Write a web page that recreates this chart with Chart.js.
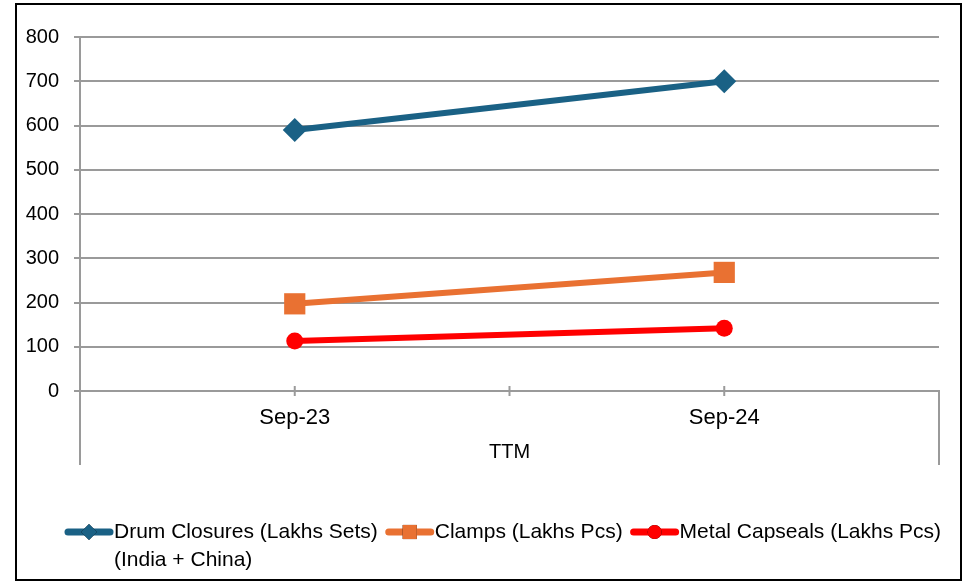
<!DOCTYPE html>
<html lang="en">
<head>
<meta charset="UTF-8" />
<title>TTM volumes</title>
<script src="https://cdn.jsdelivr.net/npm/chart.js"></script>
<style>
  html, body { margin: 0; padding: 0; background: #fff; }
  #wrap { width: 968px; height: 584px; }
</style>
</head>
<body>
<div id="wrap"><canvas id="myChart" width="968" height="584"></canvas></div>
<script>
// data
const categories = ["Sep-23", "Sep-24"];
const groupLabel = "TTM";
const drumClosures = [590, 700];
const clamps = [197, 268];
const metalCapseals = [113, 142];
const seriesNames = [
    "Drum Closures (Lakhs Sets)\n(India + China)",
    "Clamps (Lakhs Pcs)",
    "Metal Capseals (Lakhs Pcs)",
];
const yTicks = [0, 100, 200, 300, 400, 500, 600, 700, 800];

const FONT = "'Liberation Sans', Arial, sans-serif";
const GRID = "#9a9a9a";

// frame, multi-level axis bits and legend drawn here
const extras = {
    id: "extras",
    afterDraw(chart) {
        const ctx = chart.ctx;
        const x = chart.scales.x;
        const area = chart.chartArea;
        ctx.save();

        // outer border
        ctx.strokeStyle = "#000";
        ctx.lineWidth = 2;
        ctx.strokeRect(16, 4, 945, 576);

        // category axis ticks
        ctx.strokeStyle = GRID;
        ctx.lineWidth = 2;
        const y0 = area.bottom;
        const c0 = x.getPixelForValue(0);
        const c1 = x.getPixelForValue(1);
        [c0, (c0 + c1) / 2, c1].forEach((px) => {
            ctx.beginPath();
            ctx.moveTo(px, y0 - 5);
            ctx.lineTo(px, y0 + 5);
            ctx.stroke();
        });
        [area.left, area.right].forEach((px) => {
            ctx.beginPath();
            ctx.moveTo(px, y0);
            ctx.lineTo(px, 465);
            ctx.stroke();
        });

        // group label
        ctx.fillStyle = "#000";
        ctx.font = "20px " + FONT;
        ctx.textAlign = "center";
        ctx.textBaseline = "middle";
        ctx.fillText(groupLabel, (area.left + area.right) / 2, 452);

        // legend
        ctx.font = "21px " + FONT;
        ctx.textAlign = "left";
        let lx = 65;
        const ly = 532;
        chart.data.datasets.forEach((ds) => {
            ctx.strokeStyle = ds.borderColor;
            ctx.lineWidth = 7;
            ctx.lineCap = "round";
            ctx.beginPath();
            ctx.moveTo(lx + 3, ly);
            ctx.lineTo(lx + 45, ly);
            ctx.stroke();
            Chart.helpers.drawPoint(ctx, {
                pointStyle: ds.pointStyle,
                radius: ds.legendRadius,
                rotation: 0,
                borderWidth: 0,
            }, lx + 24, ly);
            ctx.fillStyle = ds.borderColor;
            ctx.fill();
            const lines = ds.label.split("\n");
            ctx.fillStyle = "#000";
            lines.forEach((t, i) => ctx.fillText(t, lx + 49, ly + i * 28));
            lx += 49 + ctx.measureText(lines[0]).width + 8;
        });
        ctx.restore();
    },
};

const config = {
    type: "line",
    data: {
        labels: categories,
        datasets: [
            {
                label: seriesNames[0],
                data: drumClosures,
                borderColor: "#1a6185",
                backgroundColor: "#1a6185",
                pointStyle: "rectRot",
                pointRadius: 12,
                legendRadius: 8,
            },
            {
                label: seriesNames[1],
                data: clamps,
                borderColor: "#e97132",
                backgroundColor: "#e97132",
                pointStyle: "rect",
                pointRadius: 15,
                legendRadius: 10,
            },
            {
                label: seriesNames[2],
                data: metalCapseals,
                borderColor: "#ff0000",
                backgroundColor: "#ff0000",
                pointStyle: "circle",
                pointRadius: 8.5,
                legendRadius: 7,
            },
        ],
    },
    options: {
        responsive: false,
        animation: false,
        elements: {
            line: { borderWidth: 6, tension: 0 },
            point: { borderWidth: 0, hoverRadius: 12 },
        },
        layout: { padding: { left: 16, top: 37, right: 29, bottom: 0 } },
        plugins: {
            legend: { display: false },
            tooltip: { enabled: false },
        },
        scales: {
            x: {
                offset: true,
                grid: { display: false },
                border: { display: true, color: GRID, width: 2 },
                ticks: {
                    color: "#000",
                    padding: 6,
                    font: { family: FONT, size: 22 },
                },
                afterFit(s) { s.height = 193; },
            },
            y: {
                min: 0,
                max: 800,
                afterBuildTicks(s) { s.ticks = yTicks.map((v) => ({ value: v })); },
                grid: { color: GRID, lineWidth: 2, tickLength: 6 },
                border: { display: true, color: GRID, width: 2 },
                ticks: {
                    color: "#000",
                    padding: 15,
                    font: { family: FONT, size: 20 },
                },
                afterFit(s) { s.width = 64; },
            },
        },
    },
    plugins: [extras],
};

document.addEventListener("DOMContentLoaded", function () {
    const ctx = document.getElementById("myChart").getContext("2d");
    new Chart(ctx, config);
});
</script>
</body>
</html>
